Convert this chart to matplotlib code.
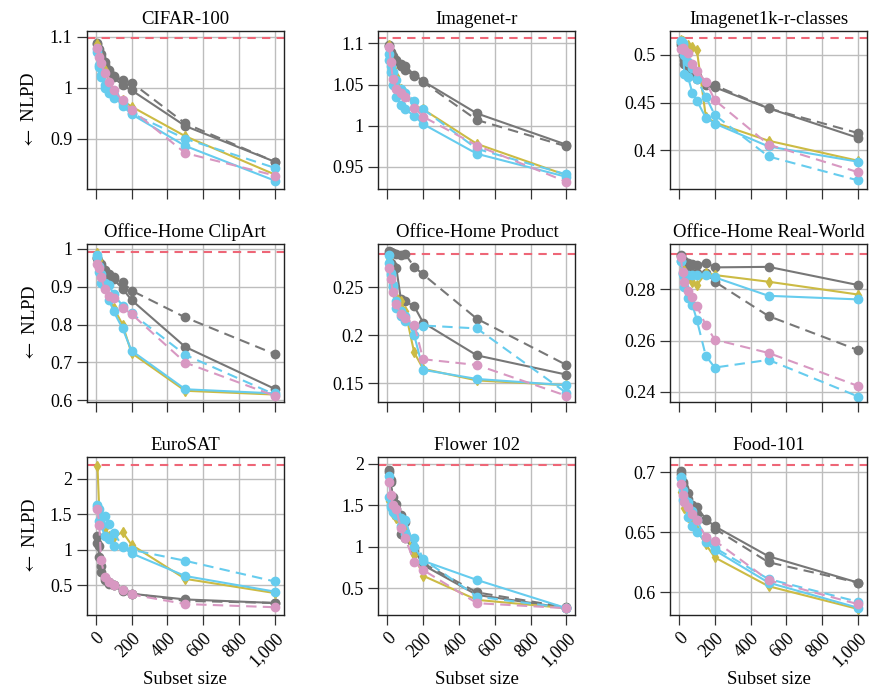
import matplotlib
matplotlib.use('Agg')
import matplotlib.pyplot as plt
from matplotlib.ticker import FuncFormatter

plt.rcParams['font.family'] = ['Liberation Serif', 'DejaVu Serif']
plt.rcParams['mathtext.fontset'] = 'stix'

# subset sizes
x = [10, 20, 30, 50, 75, 100, 150, 200, 500, 1000]

titles = ['CIFAR-100', 'Imagenet-r', 'Imagenet1k-r-classes',
          'Office-Home ClipArt', 'Office-Home Product', 'Office-Home Real-World',
          'EuroSAT', 'Flower 102', 'Food-101']

# zero-shot baseline (red dashed)
baseline = [1.097, 1.106, 0.5175, 0.991, 0.2844, 0.2938, 2.198, 1.984, 0.7061]

gray_solid = [
    [1.088, 1.070, 1.060, 1.045, 1.030, 1.020, 1.005, 0.995, 0.925, 0.855],
    [1.098, 1.090, 1.085, 1.080, 1.075, 1.072, 1.062, 1.054, 1.015, 0.977],
    [0.510, 0.500, 0.490, 0.485, 0.480, 0.475, 0.468, 0.466, 0.444, 0.413],
    [0.975, 0.960, 0.955, 0.940, 0.925, 0.920, 0.895, 0.865, 0.741, 0.630],
    [0.285, 0.275, 0.272, 0.270, 0.238, 0.235, 0.230, 0.213, 0.179, 0.159],
    [0.2935, 0.291, 0.291, 0.2905, 0.290, 0.2895, 0.2905, 0.2886, 0.2888, 0.2817],
    [1.20, 1.06, 0.77, 0.60, 0.55, 0.50, 0.43, 0.38, 0.30, 0.25],
    [1.92, 1.78, 1.55, 1.52, 1.38, 1.30, 0.98, 0.78, 0.42, 0.26],
    [0.701, 0.692, 0.687, 0.683, 0.673, 0.671, 0.661, 0.655, 0.630, 0.608],
]
gray_dashed = [
    [1.085, 1.075, 1.065, 1.050, 1.035, 1.022, 1.015, 1.010, 0.930, 0.855],
    [1.097, 1.088, 1.082, 1.078, 1.072, 1.068, 1.060, 1.053, 1.007, 0.975],
    [0.512, 0.505, 0.495, 0.490, 0.485, 0.478, 0.470, 0.468, 0.444, 0.418],
    [0.975, 0.965, 0.960, 0.945, 0.935, 0.925, 0.912, 0.890, 0.819, 0.722],
    [0.287, 0.286, 0.285, 0.284, 0.283, 0.284, 0.271, 0.263, 0.217, 0.169],
    [0.293, 0.291, 0.290, 0.289, 0.2865, 0.2865, 0.2865, 0.283, 0.2696, 0.2563],
    [1.10, 0.90, 0.68, 0.57, 0.52, 0.50, 0.42, 0.38, 0.28, 0.25],
    [1.90, 1.80, 1.60, 1.45, 1.15, 1.10, 0.95, 0.80, 0.45, 0.27],
    [0.699, 0.690, 0.684, 0.678, 0.672, 0.665, 0.660, 0.653, 0.625, 0.608],
]
yellow = [
    [1.085, 1.065, 1.050, 1.035, 1.010, 0.990, 0.975, 0.963, 0.905, 0.830],
    [1.098, 1.080, 1.070, 1.060, 1.045, 1.040, 1.025, 1.020, 0.978, 0.940],
    [0.516, 0.515, 0.512, 0.510, 0.508, 0.505, 0.435, 0.429, 0.410, 0.389],
    [0.990, 0.970, 0.920, 0.900, 0.870, 0.845, 0.800, 0.725, 0.625, 0.615],
    [0.280, 0.262, 0.250, 0.240, 0.235, 0.225, 0.182, 0.165, 0.153, 0.148],
    [0.292, 0.288, 0.2865, 0.2845, 0.283, 0.2816, 0.2865, 0.2856, 0.283, 0.278],
    [2.18, 1.55, 1.42, 1.30, 1.20, 1.18, 1.25, 1.07, 0.59, 0.39],
    [1.55, 1.45, 1.40, 1.35, 1.30, 1.20, 0.90, 0.65, 0.36, 0.26],
    [0.684, 0.675, 0.670, 0.663, 0.658, 0.652, 0.640, 0.629, 0.605, 0.586],
]
cyan_solid = [
    [1.070, 1.040, 1.020, 1.005, 0.995, 0.985, 0.965, 0.948, 0.886, 0.818],
    [1.080, 1.065, 1.050, 1.035, 1.025, 1.020, 1.012, 1.002, 0.966, 0.938],
    [0.515, 0.512, 0.480, 0.477, 0.460, 0.452, 0.434, 0.428, 0.404, 0.388],
    [0.985, 0.940, 0.910, 0.900, 0.865, 0.835, 0.790, 0.731, 0.629, 0.618],
    [0.283, 0.262, 0.250, 0.235, 0.220, 0.220, 0.200, 0.164, 0.1545, 0.148],
    [0.291, 0.2865, 0.285, 0.2855, 0.2855, 0.2855, 0.2855, 0.2847, 0.2775, 0.2761],
    [1.63, 1.40, 1.35, 1.20, 1.15, 1.05, 1.04, 0.95, 0.63, 0.41],
    [1.85, 1.50, 1.42, 1.38, 1.35, 1.32, 1.00, 0.83, 0.60, 0.26],
    [0.695, 0.677, 0.676, 0.663, 0.655, 0.650, 0.642, 0.635, 0.608, 0.587],
]
cyan_dashed = [
    [1.075, 1.045, 1.025, 1.000, 0.990, 0.980, 0.970, 0.950, 0.900, 0.843],
    [1.087, 1.072, 1.065, 1.055, 1.045, 1.040, 1.030, 1.020, 0.972, 0.941],
    [0.514, 0.510, 0.500, 0.493, 0.486, 0.475, 0.456, 0.437, 0.3935, 0.3684],
    [0.980, 0.955, 0.935, 0.910, 0.905, 0.880, 0.850, 0.830, 0.720, 0.615],
    [0.275, 0.265, 0.252, 0.228, 0.225, 0.215, 0.210, 0.210, 0.207, 0.140],
    [0.291, 0.286, 0.281, 0.2765, 0.274, 0.268, 0.254, 0.2495, 0.2525, 0.2382],
    [1.60, 1.58, 1.45, 1.47, 1.36, 1.24, 1.05, 1.00, 0.845, 0.553],
    [1.60, 1.48, 1.45, 1.40, 1.25, 1.15, 1.10, 0.85, 0.40, 0.26],
    [0.696, 0.685, 0.678, 0.675, 0.668, 0.660, 0.645, 0.637, 0.611, 0.592],
]
pink = [
    [1.078, 1.061, 1.048, 1.028, 1.012, 0.995, 0.975, 0.957, 0.872, 0.828],
    [1.095, 1.077, 1.057, 1.045, 1.040, 1.035, 1.022, 1.011, 0.976, 0.932],
    [0.506, 0.507, 0.505, 0.502, 0.490, 0.483, 0.472, 0.4525, 0.406, 0.377],
    [0.960, 0.950, 0.925, 0.895, 0.875, 0.870, 0.845, 0.828, 0.6995, 0.6115],
    [0.270, 0.258, 0.245, 0.232, 0.222, 0.218, 0.211, 0.175, 0.169, 0.137],
    [0.2926, 0.2869, 0.283, 0.2795, 0.2771, 0.2735, 0.266, 0.2604, 0.2552, 0.2423],
    [1.58, 1.35, 0.86, 0.62, 0.55, 0.50, 0.44, 0.37, 0.235, 0.19],
    [1.78, 1.62, 1.50, 1.46, 1.22, 1.10, 0.82, 0.72, 0.32, 0.26],
    [0.690, 0.681, 0.675, 0.671, 0.665, 0.660, 0.646, 0.643, 0.610, 0.590],
]

ylims = [(0.802, 1.111), (0.9235, 1.115), (0.3596, 0.525),
         (0.5956, 1.013), (0.1307, 0.2946), (0.2361, 0.2977),
         (0.081, 2.306), (0.178, 2.08), (0.581, 0.7128)]
yticks = [[0.9, 1, 1.1], [0.95, 1, 1.05, 1.1], [0.4, 0.45, 0.5],
          [0.6, 0.7, 0.8, 0.9, 1], [0.15, 0.2, 0.25], [0.24, 0.26, 0.28],
          [0.5, 1, 1.5, 2], [0.5, 1, 1.5, 2], [0.6, 0.65, 0.7]]
xticks = [0, 200, 400, 600, 800, 1000]
xticklabels = ['0', '200', '400', '600', '800', '1,000']

c_gray = '#777777'
c_yellow = '#CCBB44'
c_cyan = '#66CCEE'
c_pink = '#D898C2'
c_red = '#EE6677'

fig, axes = plt.subplots(3, 3, figsize=(8.76, 6.93), dpi=100)
fig.subplots_adjust(left=0.099, right=0.9898, top=0.9553, bottom=0.1126,
                    wspace=0.48, hspace=0.35)

for i, ax in enumerate(axes.flat):
    ax.set_axisbelow(True)
    ax.grid(color='#bdbdbd', linewidth=1.0)
    ax.axhline(baseline[i], color=c_red, linewidth=1.5, dashes=(4, 3), zorder=1)
    ax.plot(x, gray_solid[i], color=c_gray, lw=1.5, marker='o', ms=6)
    ax.plot(x, gray_dashed[i], color=c_gray, lw=1.5, marker='o', ms=6, dashes=(5, 3))
    ax.plot(x, yellow[i], color=c_yellow, lw=1.5, marker='d', ms=5)
    ax.plot(x, cyan_solid[i], color=c_cyan, lw=1.5, marker='o', ms=6)
    ax.plot(x, cyan_dashed[i], color=c_cyan, lw=1.5, marker='o', ms=6, dashes=(5, 3))
    ax.plot(x, pink[i], color=c_pink, lw=1.5, marker='o', ms=6, dashes=(5, 3))

    ax.set_title(titles[i], fontsize=13.5, pad=5)
    ax.set_xlim(-50, 1050)
    ax.set_ylim(ylims[i])
    ax.set_yticks(yticks[i])
    ax.yaxis.set_major_formatter(FuncFormatter(lambda v, p: '%g' % v))
    ax.set_xticks(xticks)
    ax.tick_params(direction='out', length=7, width=0.9, labelsize=13, color='#333333')
    for s in ax.spines.values():
        s.set_linewidth(1.0)
        s.set_color('#222222')
    if i >= 6:
        ax.set_xticklabels(xticklabels, rotation=45, ha='right', rotation_mode='anchor')
        ax.set_xlabel('Subset size', fontsize=13.5, labelpad=1)
    else:
        ax.set_xticklabels([])
    if i % 3 == 0:
        ax.set_ylabel(r'$\leftarrow$ NLPD', fontsize=13.5, labelpad=8)

fig.savefig('out.png', dpi=100)
